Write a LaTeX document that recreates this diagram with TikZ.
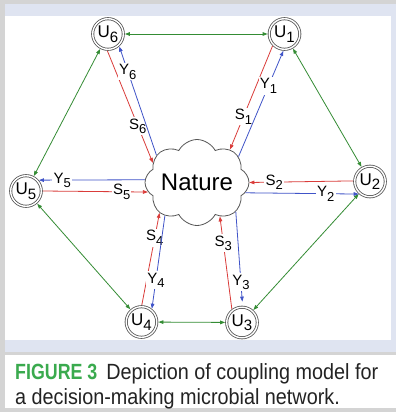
\documentclass[tikz,border=0pt]{standalone}
\usepackage{fontspec}
\setmainfont{Liberation Sans}
\newfontfamily\capfont[FakeStretch=0.9]{Liberation Sans}
\newfontfamily\capboldfont[FakeStretch=0.81]{Liberation Sans}
\usetikzlibrary{arrows.meta,shapes.symbols}
\definecolor{pagegray}{RGB}{212,212,212}
\definecolor{lav}{RGB}{223,228,241}
\definecolor{redl}{RGB}{218,60,58}
\definecolor{bluel}{RGB}{64,84,200}
\definecolor{greenl}{RGB}{52,140,52}
\definecolor{ring}{RGB}{85,85,85}
\definecolor{capgreen}{RGB}{58,170,78}
\definecolor{captext}{RGB}{35,35,35}
\newcommand\usub[2]{#1\raisebox{-4.5pt}{\fontsize{15}{15}\selectfont #2}}
\newcommand\lsub[2]{#1\raisebox{-4.5pt}{\fontsize{13}{13}\selectfont #2}}
\begin{document}
\begin{tikzpicture}[x=1pt,y=-1pt,
  >={Triangle[length=5pt,width=3.6pt]},
  unode/.style={circle,draw=ring,line width=0.8pt,double=white,double distance=1.4pt,minimum size=30.6pt,inner sep=0pt,outer sep=1.6pt,font=\fontsize{17}{17}\selectfont,text height=12.3pt,text depth=4.5pt},
  cloudnode/.style={cloud,draw=ring,line width=0.8pt,cloud puffs=8,cloud puff arc=125,cloud ignores aspect,minimum width=104pt,minimum height=86pt,inner sep=0pt,font=\fontsize{24}{24}\selectfont},
  sline/.style={draw=redl,line width=0.8pt,->},
  yline/.style={draw=bluel,line width=0.8pt,->},
  gline/.style={draw=greenl,line width=0.8pt,<->},
  lab/.style={fill=white,inner sep=1.2pt,font=\fontsize{15}{15}\selectfont,text height=10.8pt,text depth=4.5pt},
  captxt/.style={anchor=base west,inner sep=0pt,text=captext,font=\capfont\fontsize{22}{22}\selectfont}
]
\fill[pagegray] (0,0) rectangle (396,412);
\fill[lav] (5,4) rectangle (396,352);
\fill[white] (5,16) rectangle (391,340);
\fill[white] (5,355) rectangle (396,408);
\useasboundingbox (0,0) rectangle (396,412);

\node[unode] (u1) at (284.5,34) {\usub{U}{1}};
\node[unode] (u2) at (370,181.5) {\usub{U}{2}};
\node[unode] (u3) at (242,322.5) {\usub{U}{3}};
\node[unode] (u4) at (141.5,322) {\usub{U}{4}};
\node[unode] (u5) at (26,191) {\usub{U}{5}};
\node[unode] (u6) at (108,34) {\usub{U}{6}};
\node[cloudnode] (nat) at (197,182.5) {Nature};

\draw[gline] (u6) -- (u1);
\draw[gline] (u1) -- (u2);
\draw[gline] (u2) -- (u3);
\draw[gline] (u3) -- (u4);
\draw[gline] (u4) -- (u5);
\draw[gline] (u5) -- (u6);

\draw[sline] (u1.225) -- node[lab,pos=.68]{\lsub{S}{1}} (nat.45);
\draw[yline] (nat.32) -- node[lab,pos=.67]{\lsub{Y}{1}} (u1.266);
\draw[sline] (u6.268) -- node[lab,pos=.67]{\lsub{S}{6}} (nat.156);
\draw[yline] (nat.146) -- node[lab,pos=.77]{\lsub{Y}{6}} (u6.312);
\draw[yline] (nat.177) -- node[lab,pos=.78]{\lsub{Y}{5}} (u5.40);
\draw[sline] (u5.0) -- node[lab,pos=.75]{\lsub{S}{5}} (nat.191);
\draw[sline] (u4.89) -- node[lab,pos=.73]{\lsub{S}{4}} (nat.219);
\draw[yline] (nat.226) -- node[lab,pos=.69]{\lsub{Y}{4}} (u4.52);
\draw[sline] (u3.127) -- node[lab,pos=.71]{\lsub{S}{3}} (nat.304);
\draw[yline,shorten >=4pt] (nat.323) -- node[lab,pos=.75]{\lsub{Y}{3}} (u3.88);
\draw[sline] (u2.178) -- node[lab,pos=.76]{\lsub{S}{2}} (nat.0);
\draw[yline] (nat.348) -- node[lab,pos=.71]{\lsub{Y}{2}} (u2.228);

\node[captxt] (cap1) at (15,379) {{\capboldfont\bfseries\color{capgreen}FIGURE 3}\hspace{9pt}Depiction of coupling model for};
\node[captxt] (cap2) at (15,404) {a decision-making microbial network.};
\end{tikzpicture}
\end{document}
